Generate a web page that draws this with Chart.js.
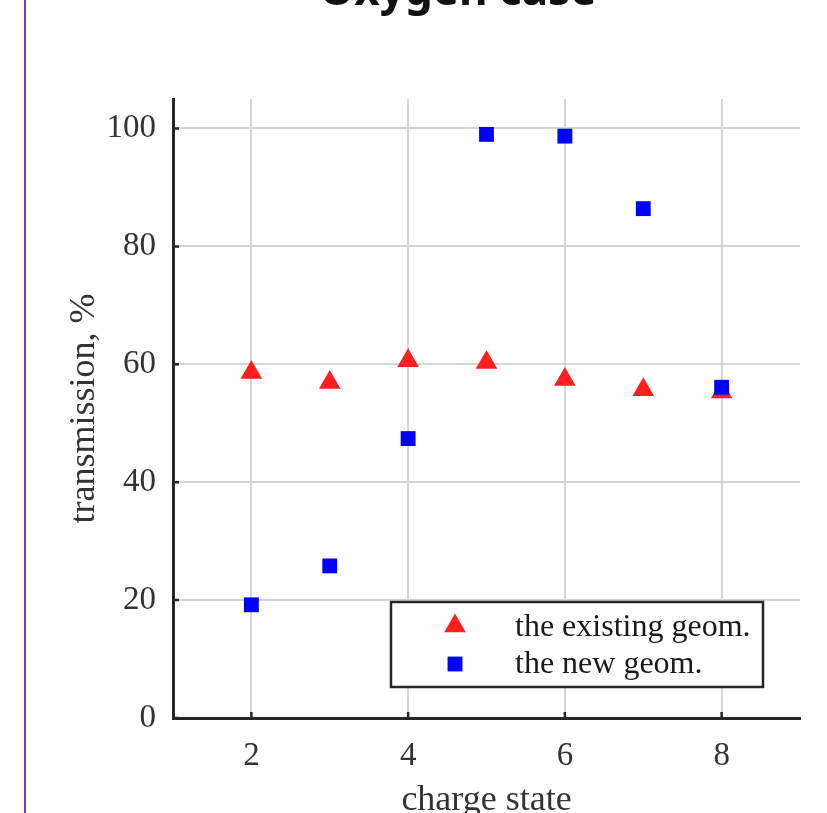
<!DOCTYPE html>
<html>
<head>
<meta charset="utf-8">
<script src="https://cdn.jsdelivr.net/npm/chart.js@4"></script>
<style>
  html, body { margin: 0; padding: 0; background: #fff; overflow: hidden; }
  #pagina { position: relative; width: 827px; height: 813px; overflow: hidden; }
  #chart { position: absolute; left: 0; top: 0; }
  #borde { position: absolute; left: 24px; top: 0; width: 1.5px; height: 813px; background: #6b3fd6; }
</style>
</head>
<body>
<div id="pagina">
  <canvas id="chart" width="827" height="850"></canvas>
  <div id="borde"></div>
</div>
<script>
// datos
const cargas = [2, 3, 4, 5, 6, 7, 8];
const geomExistente = [58.6, 56.9, 60.6, 60.3, 57.4, 55.7, 55.3];
const geomNueva = [19.2, 25.8, 47.4, 99.0, 98.7, 86.4, 56.1];
const ticksX = [2, 4, 6, 8];
const ticksY = [0, 20, 40, 60, 80, 100];
const etiquetas = ["the existing geom.", "the new geom."];
const titulo = "Oxygen case";

const serif = "'Liberation Serif', 'Times New Roman', serif";
const textoColor = "#333";
const ejeColor = "#262626";

function puntos(valores) {
  return cargas.map((c, i) => ({ x: c, y: valores[i] }));
}

// tick marks hacia adentro, como en matlab
const marcasInternas = {
  id: "marcasInternas",
  afterDraw(chart) {
    const { ctx, chartArea, scales } = chart;
    ctx.save();
    ctx.strokeStyle = ejeColor;
    ctx.lineWidth = 2.5;
    ctx.beginPath();
    ticksY.forEach(v => {
      const y = scales.y.getPixelForValue(v);
      ctx.moveTo(chartArea.left, y);
      ctx.lineTo(chartArea.left + 6, y);
    });
    ticksX.forEach(v => {
      const x = scales.x.getPixelForValue(v);
      ctx.moveTo(x, chartArea.bottom);
      ctx.lineTo(x, chartArea.bottom - 6);
    });
    ctx.stroke();
    ctx.restore();
  }
};

// leyenda con caja dentro del area
const leyendaCaja = {
  id: "leyendaCaja",
  afterDraw(chart) {
    const { ctx, chartArea } = chart;
    const izq = chartArea.right - 409;
    const arriba = chartArea.bottom - 116;
    ctx.save();
    ctx.fillStyle = "#fff";
    ctx.fillRect(izq, arriba, 372, 85);
    ctx.strokeStyle = ejeColor;
    ctx.lineWidth = 2.5;
    ctx.strokeRect(izq, arriba, 372, 85);

    const filas = [arriba + 24, arriba + 62];
    chart.data.datasets.slice().reverse().forEach((ds, i) => {
      ctx.fillStyle = ds.backgroundColor;
      Chart.helpers.drawPoint(ctx, {
        pointStyle: ds.pointStyle,
        radius: ds.pointRadius,
        borderWidth: 0,
        rotation: 0
      }, izq + 64, filas[i]);
    });

    ctx.fillStyle = "#1a1a1a";
    ctx.font = "32px " + serif;
    ctx.textBaseline = "middle";
    ctx.textAlign = "left";
    ctx.fillText(etiquetas[0], izq + 124, arriba + 26);
    ctx.fillText(etiquetas[1], izq + 124, arriba + 63);

    // titulo cortado arriba
    ctx.fillStyle = "#111";
    ctx.font = "bold 44px 'Noto Sans', sans-serif";
    ctx.textAlign = "center";
    ctx.textBaseline = "alphabetic";
    ctx.fillText(titulo, 458, 5);
    ctx.restore();
  }
};

new Chart(document.getElementById("chart"), {
  type: "scatter",
  data: {
    datasets: [
      {
        label: etiquetas[1],
        data: puntos(geomNueva),
        pointStyle: "rect",
        pointRadius: 10.5,
        backgroundColor: "#0000ff",
        borderWidth: 0,
        order: 0
      },
      {
        label: etiquetas[0],
        data: puntos(geomExistente),
        pointStyle: "triangle",
        pointRadius: 12.5,
        backgroundColor: "#ff1f1f",
        borderWidth: 0,
        order: 1
      }
    ]
  },
  options: {
    responsive: false,
    animation: false,
    layout: { padding: { top: 99, right: 27, left: 0, bottom: 0 } },
    plugins: {
      legend: { display: false },
      tooltip: { enabled: false }
    },
    scales: {
      x: {
        type: "linear",
        min: 1,
        max: 9,
        afterBuildTicks: s => { s.ticks = ticksX.map(v => ({ value: v })); },
        afterFit: s => { s.height = 132; },
        ticks: { color: textoColor, padding: 19, font: { family: serif, size: 33 } },
        grid: { color: "#d6d6d6", lineWidth: 2, drawTicks: false },
        border: { color: ejeColor, width: 3 },
        title: {
          display: true,
          text: "charge state",
          color: textoColor,
          font: { family: serif, size: 36 },
          padding: { top: 0, bottom: 28 }
        }
      },
      y: {
        type: "linear",
        min: 0,
        max: 105,
        afterBuildTicks: s => { s.ticks = ticksY.map(v => ({ value: v })); },
        afterFit: s => { s.width = 173; },
        ticks: { color: textoColor, padding: 17, font: { family: serif, size: 33 } },
        grid: { color: "#d6d6d6", lineWidth: 2, drawTicks: false },
        border: { color: ejeColor, width: 3 },
        title: {
          display: true,
          text: "transmission, %",
          color: textoColor,
          font: { family: serif, size: 36 },
          padding: { top: 63, bottom: 0 }
        }
      }
    }
  },
  plugins: [marcasInternas, leyendaCaja]
});
</script>
</body>
</html>
